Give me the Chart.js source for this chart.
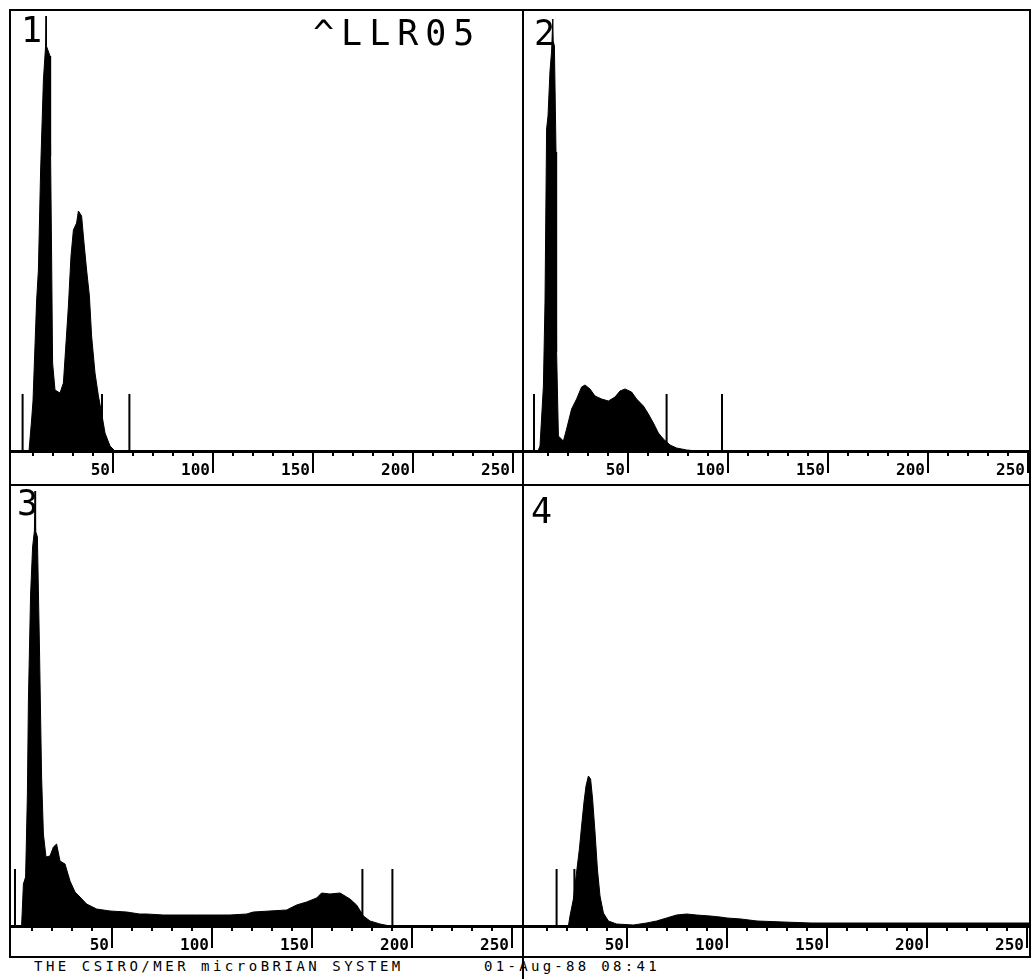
<!DOCTYPE html>
<html>
<head>
<meta charset="utf-8">
<title>^LLR05</title>
<script src="https://cdn.jsdelivr.net/npm/chart.js@4.4.1/dist/chart.umd.min.js"></script>
<style>
  html, body { margin: 0; padding: 0; background: #fff; }
  #sheet { position: relative; width: 1032px; height: 979px; overflow: hidden; background: #fff; }
  .rule { position: absolute; background: #000; }
  .lbl { position: absolute; font-family: "DejaVu Sans Mono", monospace; color: #000; line-height: 1; white-space: pre; }
  canvas { position: absolute; }
</style>
</head>
<body>
<div id="sheet">
  <!-- frame -->
  <div class="rule" style="left:9px;top:9px;width:1022px;height:2px"></div>
  <div class="rule" style="left:9px;top:484px;width:1022px;height:2px"></div>
  <div class="rule" style="left:9px;top:956px;width:1022px;height:2px"></div>
  <div class="rule" style="left:9px;top:9px;width:2px;height:949px"></div>
  <div class="rule" style="left:522px;top:9px;width:2px;height:970px"></div>
  <div class="rule" style="left:1029px;top:9px;width:2px;height:949px"></div>

  <canvas id="p1" width="511" height="474" style="left:11px;top:11px"></canvas>
  <canvas id="p2" width="505" height="474" style="left:524px;top:11px"></canvas>
  <canvas id="p3" width="511" height="471" style="left:11px;top:486px"></canvas>
  <canvas id="p4" width="505" height="471" style="left:524px;top:486px"></canvas>

  <div class="lbl" style="left:313px;top:16px;font-size:35px;letter-spacing:7px">^LLR05</div>
  <div class="lbl" style="left:21px;top:13px;font-size:35px">1</div>
  <div class="lbl" style="left:534px;top:16px;font-size:35px">2</div>
  <div class="lbl" style="left:17px;top:486px;font-size:35px">3</div>
  <div class="lbl" style="left:531px;top:494px;font-size:35px">4</div>

  <div class="lbl" style="left:34px;top:959px;font-size:14px;letter-spacing:3.5px">THE CSIRO/MER microBRIAN SYSTEM</div>
  <div class="lbl" style="left:484px;top:959px;font-size:14px;letter-spacing:3.3px">01-Aug-88 08:41</div>
</div>

<script>
// Histogram scale (counts), marker bar height
const Y_MAX = 440, MARKER_H = 57;

// Channel axis ticks
const majorTicks = [50, 100, 150, 200, 250];
const minorTicks = [10, 20, 30, 40, 50, 60, 70, 80, 90, 100, 110, 120, 130, 140, 150, 160, 170, 180, 190, 200, 210, 220, 230, 240, 250];

// Panel 1
const ch1 = [0, 8, 9.3, 10, 11.8, 12.7, 13.8, 15.2, 16.3, 16.5, 16.7, 18.5, 18.8, 19.3, 19.8, 21, 23.5, 25.2, 26.5, 27.7, 29, 30.2, 31.8, 32.7, 34.3, 35.5, 36.8, 38.2, 39.3, 41, 42.7, 44.3, 46, 48.5, 51, 255];
const cnt1 = [0, 0, 31, 50, 150, 181, 280, 371, 405, 435, 405, 395, 295, 195, 88, 61, 58, 68, 108, 145, 195, 221, 228, 240, 235, 208, 181, 155, 115, 78, 55, 38, 18, 5, 0, 0];
const marks1 = [4.8, 44.5, 58.2];

// Panel 2
const ch2 = [0, 5, 6, 7.7, 8.5, 9.3, 10, 11, 11.8, 12.4, 12.6, 13.2, 14, 14.3, 15.2, 17.7, 19.3, 21.8, 24.3, 26.8, 28.5, 31, 33.5, 36.8, 40.2, 43.5, 46, 48.5, 51.8, 54.3, 57.7, 60.2, 62.7, 65.2, 67.7, 71, 74.3, 79.3, 85, 255];
const cnt2 = [0, 0, 5, 65, 149, 322, 335, 380, 400, 432, 410, 405, 299, 99, 15, 10, 22, 42, 52, 64, 66, 62, 55, 52, 50, 54, 60, 62, 59, 52, 45, 37, 28, 18, 12, 6, 3, 1, 0, 0];
const marks2 = [3, 69.3, 97];

// Panel 3
const ch3 = [0, 4.8, 5.7, 6.8, 7.7, 8.2, 9.3, 10.3, 11.2, 11.5, 11.8, 12.7, 13.7, 14.8, 15.7, 17, 19, 20.7, 22.3, 24, 26.5, 29, 31.5, 34, 37.3, 42.3, 49, 57.3, 63.8, 67.3, 75.7, 84, 92.3, 100.7, 109, 117.3, 120.7, 129, 137.3, 142.3, 147.3, 152.3, 154.8, 159, 164, 169, 172.3, 175.7, 179, 184, 189, 255];
const cnt3 = [0, 0, 42, 49, 132, 225, 332, 379, 395, 435, 395, 389, 282, 149, 92, 69, 70, 79, 82, 65, 62, 45, 34, 29, 22, 17, 15, 14, 12, 12, 11, 11, 11, 11, 11, 12, 14, 15, 16, 21, 24, 28, 33, 32, 33, 27, 21, 10, 5, 2, 0, 0];
const marks3 = [1.5, 175.2, 190.2];

// Panel 4
const ch4 = [0, 20.7, 21.5, 23.2, 24.8, 26.2, 27.3, 28.5, 29.5, 30.7, 31.8, 32.8, 34, 35.2, 36.5, 38.2, 40.7, 44.8, 53.2, 59.8, 64.8, 69.8, 74.8, 79.8, 84.8, 91.5, 96.5, 100, 107, 115, 128, 142, 160, 200, 230, 255];
const cnt4 = [0, 0, 10, 27, 54, 77, 100, 124, 140, 150, 147, 127, 94, 57, 30, 13, 5, 2, 1, 3, 5, 8, 11, 12, 11, 10, 9, 8, 7, 5, 4, 3, 3, 3, 3, 3];
const marks4 = [14.8, 23.7];

function makePanel(id, chs, counts, marks, xMin, xMax, strip) {

    const hist = chs.map((c, i) => ({ x: c, y: counts[i] }));
    const bars = [];
    marks.forEach(m => {
        bars.push({ x: m, y: 0 }, { x: m, y: MARKER_H }, { x: m, y: null });
    });

    return new Chart(document.getElementById(id), {
        type: 'line',
        data: {
            datasets: [
                { data: hist, fill: 'origin', backgroundColor: '#000', borderColor: '#000',
                  borderWidth: 1, pointRadius: 0, tension: 0 },
                { data: bars, fill: false, borderColor: '#000', borderWidth: 2,
                  pointRadius: 0, tension: 0, spanGaps: false }
            ]
        },
        options: {
            responsive: false,
            animation: false,
            layout: { padding: 0 },
            plugins: { legend: { display: false }, tooltip: { enabled: false } },
            scales: {
                y: { display: false, min: 0, max: Y_MAX },
                x: {
                    type: 'linear', position: 'bottom', min: xMin, max: xMax, weight: 0,
                    afterBuildTicks: s => { s.ticks = minorTicks.map(v => ({ value: v })); },
                    afterFit: s => { s.height = 0; },
                    border: { display: false },
                    grid: { drawOnChartArea: false, tickLength: 5, lineWidth: 2, color: '#000' },
                    ticks: { display: false, autoSkip: false }
                },
                xMajor: {
                    type: 'linear', position: 'bottom', min: xMin, max: xMax, weight: 1,
                    afterBuildTicks: s => { s.ticks = majorTicks.map(v => ({ value: v })); },
                    afterFit: s => { s.height = strip; },
                    border: { display: true, width: 3, color: '#000' },
                    grid: { drawOnChartArea: false, tickLength: 22, lineWidth: 2, color: '#000' },
                    ticks: {
                        autoSkip: false, maxRotation: 0,
                        align: 'end', labelOffset: -3, padding: -12, color: '#000',
                        font: { family: 'DejaVu Sans Mono', size: 16, weight: 'bold' },
                        callback: v => String(v)
                    }
                }
            }
        }
    });
}

makePanel('p1', ch1, cnt1, marks1, -1, 254.5, 34);
makePanel('p2', ch2, cnt2, marks2, -2, 250.5, 34);
makePanel('p3', ch3, cnt3, marks3, -0.5, 255, 31);
makePanel('p4', ch4, cnt4, marks4, -1.5, 251, 31);
</script>
</body>
</html>
